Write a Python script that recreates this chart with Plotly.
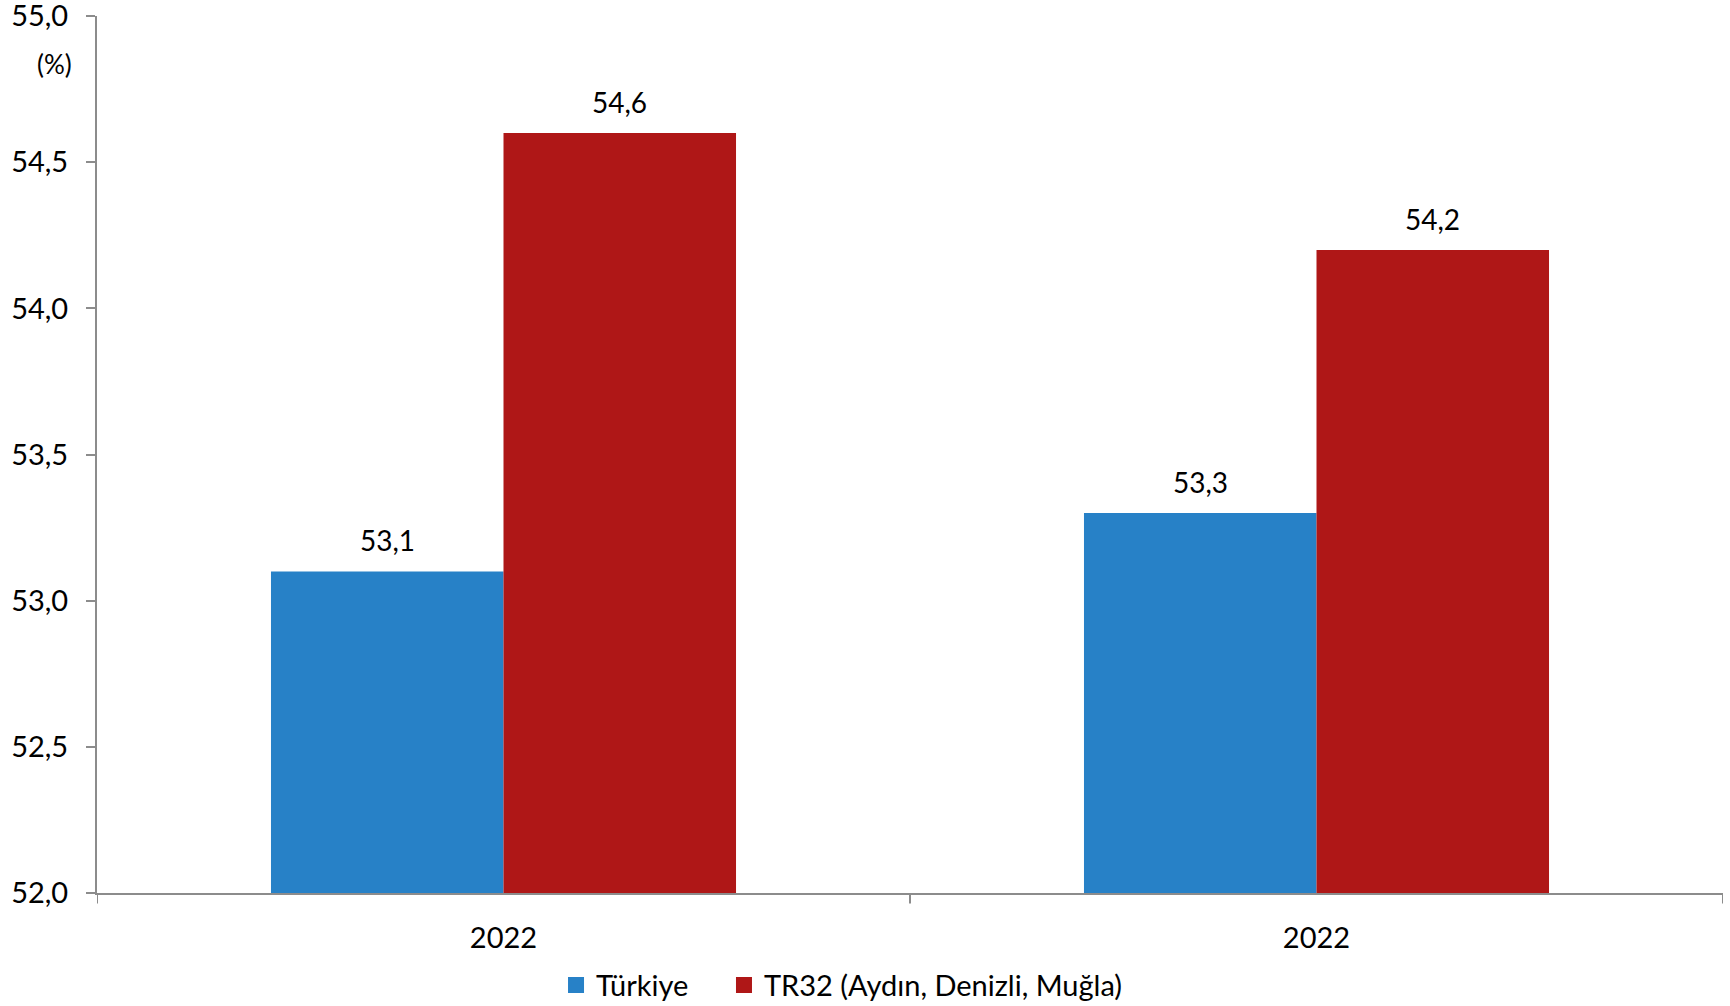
import plotly.graph_objects as go

categories = ["2022", "2022"]
positions = [0, 1]
turkiye = [53.1, 53.3]
tr32 = [54.6, 54.2]
series_names = ["Türkiye", "TR32 (Aydın, Denizli, Muğla)"]
colors = ["#2781C7", "#AF1717"]
y_ticks = [52.0, 52.5, 53.0, 53.5, 54.0, 54.5, 55.0]
y_tick_labels = ["52,0", "52,5", "53,0", "53,5", "54,0", "54,5", "55,0"]

FONT = "Lato"
BAR_W = 0.286
legend_ids = ["legend", "legend2"]
fig = go.Figure()
for k, (name, vals, col) in enumerate(zip(series_names, [turkiye, tr32], colors)):
    off = -BAR_W if k == 0 else 0.0
    fig.add_trace(go.Bar(
        x=positions, y=vals, name=name, marker=dict(color=col, line=dict(width=0)),
        width=BAR_W, offset=off, showlegend=False,
    ))
    # legend entry with a larger square swatch
    fig.add_trace(go.Scatter(
        x=[None], y=[None], mode="markers", name=name, legend=legend_ids[k],
        marker=dict(symbol="square", size=16, color=col, line=dict(width=0)),
    ))
    for p, v in zip(positions, vals):
        fig.add_annotation(x=p + off + BAR_W / 2, y=v, xref="x", yref="y",
                           text=f"{v:.1f}".replace(".", ","), showarrow=False,
                           yanchor="bottom", yshift=12,
                           font=dict(family=FONT, size=28, color="#000"))

leg_common = dict(orientation="h", yanchor="middle", y=-0.105, xanchor="left",
                  font=dict(family=FONT, size=29, color="#000"), itemwidth=30,
                  bgcolor="rgba(0,0,0,0)")
fig.update_layout(
    width=1730, height=1006, barmode="overlay",
    separators=",.",
    plot_bgcolor="white", paper_bgcolor="white",
    margin=dict(l=97, r=7, t=16, b=113, autoexpand=False),
    font=dict(family=FONT, size=29, color="#000"),
    xaxis=dict(
        range=[-0.5, 1.5], tickvals=positions, ticktext=categories,
        showline=True, linecolor="#8c8c8c", linewidth=2,
        ticks="", showgrid=False, zeroline=False, automargin=False,
        ticklabelstandoff=18,
        tickfont=dict(family=FONT, size=29, color="#000"),
    ),
    yaxis=dict(
        range=[52, 55.0005], tickvals=y_ticks, ticktext=y_tick_labels,
        showline=True, linecolor="#8c8c8c", linewidth=2,
        ticks="outside", ticklen=9, tickcolor="#8c8c8c", tickwidth=2,
        showgrid=False, zeroline=False, automargin=False,
        ticklabelstandoff=12, ticklabeloverflow="allow",
        tickfont=dict(family=FONT, size=29, color="#000"),
    ),
    legend=dict(x=0.2823, **leg_common),
    legend2=dict(x=0.3856, **leg_common),
    showlegend=True,
)
for xb in [-0.5, 0.5, 1.5]:
    fig.add_shape(type="line", xref="x", yref="paper", x0=xb, x1=xb, y0=0, y1=-0.012,
                  line=dict(color="#8c8c8c", width=2))
fig.add_annotation(text="(%)", xref="paper", yref="paper", x=-0.0141, y=0.945,
                   xanchor="right", yanchor="middle", showarrow=False,
                   font=dict(family=FONT, size=26, color="#000"))
# remove the browser's default 8px page margin so the figure fills the window
fig.write_html("out.html", config={"displayModeBar": False},
               post_script="document.body.style.margin='0px';")
